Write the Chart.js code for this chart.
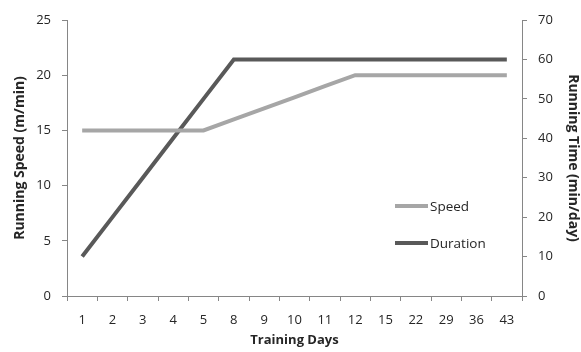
<!DOCTYPE html>
<html>
<head>
<meta charset="utf-8">
<script src="https://cdn.jsdelivr.net/npm/chart.js@4"></script>
<style>
  html, body { margin: 0; padding: 0; background: #fff; }
  #wrap { width: 581px; height: 352px; }
</style>
</head>
<body>
<div id="wrap"><canvas id="chart" width="581" height="352"></canvas></div>
<script>
// Chart data
const days = ['1', '2', '3', '4', '5', '8', '9', '10', '11', '12', '15', '22', '29', '36', '43'];
const speed = [15, 15, 15, 15, 15, 16, 17, 18, 19, 20, 20, 20, 20, 20, 20];      // m/min, left axis
const duration = [10, 20, 30, 40, 50, 60, 60, 60, 60, 60, 60, 60, 60, 60, 60];   // min/day, right axis
const speedTicks = [0, 5, 10, 15, 20, 25];
const timeTicks = [0, 10, 20, 30, 40, 50, 60, 70];

const FONT = "'Open Sans', 'DejaVu Sans', sans-serif";
const AXIS = '#868686';
const TEXT = '#262626';

// draws the legend inside the plot, bottom right
const innerLegend = {
    id: 'innerLegend',
    afterDraw(chart) {
        const ctx = chart.ctx;
        const area = chart.chartArea;
        const x0 = area.right - 127;
        const rows = [area.top + 186, area.top + 223];
        ctx.save();
        chart.data.datasets.forEach((ds, i) => {
            const y = rows[i];
            ctx.strokeStyle = ds.borderColor;
            ctx.lineWidth = ds.borderWidth;
            ctx.beginPath();
            ctx.moveTo(x0, y);
            ctx.lineTo(x0 + 33, y);
            ctx.stroke();
            ctx.fillStyle = TEXT;
            ctx.font = '13.5px ' + FONT;
            ctx.textBaseline = 'middle';
            ctx.fillText(ds.label, x0 + 35, y + 1);
        });
        ctx.restore();
    }
};

new Chart(document.getElementById('chart'), {
    type: 'line',
    data: {
        labels: days,
        datasets: [
            {
                label: 'Speed',
                data: speed,
                yAxisID: 'ySpeed',
                borderColor: '#a6a6a6',
                borderWidth: 4,
                pointRadius: 0,
                tension: 0
            },
            {
                label: 'Duration',
                data: duration,
                yAxisID: 'yTime',
                borderColor: '#595959',
                borderWidth: 4,
                pointRadius: 0,
                tension: 0
            }
        ]
    },
    options: {
        responsive: false,
        animation: false,
        layout: { padding: { top: 20, left: 0, right: 0, bottom: 0 } },
        plugins: {
            legend: { display: false },
            tooltip: { enabled: false }
        },
        scales: {
            x: {
                offset: true,
                grid: { display: true, offset: true, drawOnChartArea: false, drawTicks: true, tickLength: 5, color: AXIS },
                border: { display: true, color: AXIS, width: 1 },
                ticks: { color: TEXT, font: { family: FONT, size: 13 }, padding: 11, maxRotation: 0, autoSkip: false },
                title: { display: true, text: 'Training Days', color: TEXT, font: { family: FONT, size: 13, weight: 'bold' }, padding: { top: 2 } },
                afterFit(scale) { scale.height = 56; }
            },
            ySpeed: {
                position: 'left',
                min: 0,
                max: 25,
                afterBuildTicks(scale) { scale.ticks = speedTicks.map(v => ({ value: v })); },
                grid: { display: true, drawOnChartArea: false, drawTicks: true, tickLength: 5, color: AXIS },
                border: { display: true, color: AXIS, width: 1 },
                ticks: { color: TEXT, font: { family: FONT, size: 13 }, padding: 11 },
                title: { display: true, text: 'Running Speed (m/min)', color: TEXT, font: { family: FONT, size: 14, weight: 'bold' }, padding: { top: 12, bottom: 0 } },
                afterFit(scale) { scale.width = 67; }
            },
            yTime: {
                position: 'right',
                min: 0,
                max: 70,
                afterBuildTicks(scale) { scale.ticks = timeTicks.map(v => ({ value: v })); },
                grid: { display: true, drawOnChartArea: false, drawTicks: true, tickLength: 5, color: AXIS },
                border: { display: true, color: AXIS, width: 1 },
                ticks: { color: TEXT, font: { family: FONT, size: 13 }, padding: 11 },
                title: { display: true, text: 'Running Time (min/day)', color: TEXT, font: { family: FONT, size: 14, weight: 'bold' }, padding: { top: 0, bottom: 0 } },
                afterFit(scale) { scale.width = 59; }
            }
        }
    },
    plugins: [innerLegend]
});
</script>
</body>
</html>
